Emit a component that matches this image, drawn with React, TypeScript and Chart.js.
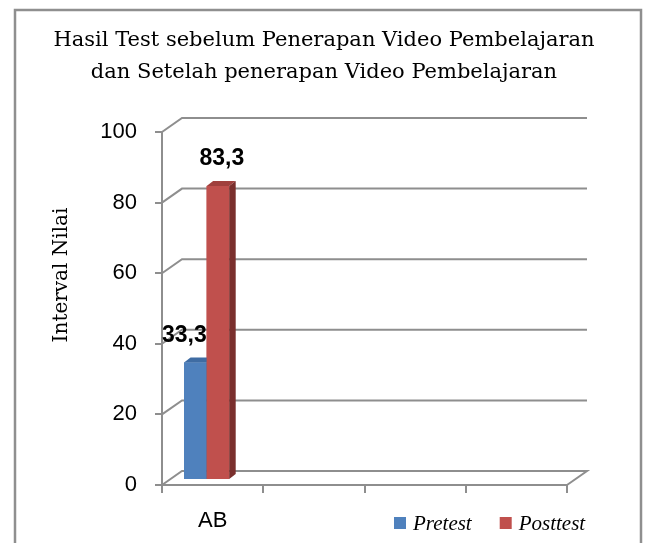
import { useEffect, useRef } from "react";
import { Chart, registerables } from "chart.js";

Chart.register(...registerables);

// ---- data ----
const categories = ["AB", "", "", ""];
const seriesNames = ["Pretest", "Posttest"];
const pretestValues = [33.3, null, null, null];
const posttestValues = [83.3, null, null, null];
const yTickValues = [0, 20, 40, 60, 80, 100];
const titleLines = [
  "Hasil Test sebelum Penerapan Video Pembelajaran",
  "dan Setelah penerapan Video Pembelajaran",
];
const yAxisTitle = "Interval Nilai";

// ---- style ----
const FRONT = ["#4F81BD", "#C0504D"];
const TOP = ["#3F6CA3", "#A0403D"];
const SIDE = ["#2F5485", "#7A2F2D"];
const GRID = "#8E8E8E";
const WALL_DX = 20;
const WALL_DY = -14;
const BAR_SHIFT_X = -6;
const BAR_SHIFT_Y = -5;
const BAR_DX = 6.5;
const BAR_DY = -5;
const LABEL_DX = [-11, 4];
const LABEL_DY = -27;
const SANS = "'Liberation Sans', Arial, sans-serif";
const SERIF = "'DejaVu Serif', serif";
const LEGEND_SERIF = "'Liberation Serif', serif";

const excel3d = {
  id: "excel3d",
  beforeDraw(chart: any) {
    const { ctx, chartArea, scales } = chart;
    const y = scales.y;
    ctx.save();
    ctx.fillStyle = "#ffffff";
    ctx.fillRect(0, 0, chart.width, chart.height);
    // frame
    ctx.strokeStyle = "#8f8f8f";
    ctx.lineWidth = 2.5;
    ctx.strokeRect(15, 10, 626, 560);
    // title
    ctx.fillStyle = "#000";
    ctx.font = `21px ${SERIF}`;
    ctx.textAlign = "center";
    ctx.textBaseline = "alphabetic";
    titleLines.forEach((l, i) => ctx.fillText(l, 324, 46 + i * 32));
    // y title
    ctx.save();
    ctx.translate(62, 275);
    ctx.rotate(-Math.PI / 2);
    ctx.font = `20px ${SERIF}`;
    ctx.textBaseline = "middle";
    ctx.textAlign = "center";
    ctx.fillText(yAxisTitle, 0, 0);
    ctx.restore();
    // side wall + back wall gridlines, floor
    ctx.strokeStyle = GRID;
    ctx.lineWidth = 2;
    y.ticks.forEach((t: any) => {
      const py = y.getPixelForValue(t.value);
      ctx.beginPath();
      ctx.moveTo(chartArea.left, py);
      ctx.lineTo(chartArea.left + WALL_DX, py + WALL_DY);
      ctx.lineTo(chartArea.right + WALL_DX, py + WALL_DY);
      if (t.value === y.min) ctx.lineTo(chartArea.right, py);
      ctx.stroke();
    });
    // legend
    ctx.font = `italic 21px ${LEGEND_SERIF}`;
    ctx.textAlign = "left";
    ctx.textBaseline = "middle";
    let lx = 394;
    const ly = 523;
    chart.data.datasets.forEach((ds: any) => {
      ctx.fillStyle = ds.backgroundColor;
      ctx.fillRect(lx, ly - 6, 12, 12);
      ctx.fillStyle = "#000";
      ctx.fillText(ds.label, lx + 19, ly + 1);
      lx += 19 + ctx.measureText(ds.label).width + 28;
    });
    ctx.restore();
  },
  beforeDatasetsDraw(chart: any) {
    chart.ctx.save();
    chart.ctx.translate(BAR_SHIFT_X, BAR_SHIFT_Y);
  },
  afterDatasetsDraw(chart: any) {
    const { ctx, chartArea } = chart;
    // redraw in index order with 3D faces
    chart.data.datasets.forEach((ds: any, i: number) => {
      const meta = chart.getDatasetMeta(i);
      meta.data.forEach((el: any, j: number) => {
        if (ds.data[j] == null) return;
        const { x, y, base, width } = el.getProps(["x", "y", "base", "width"], true);
        const x1 = x - width / 2;
        const x2 = x + width / 2;
        el.draw(ctx, chartArea);
        ctx.fillStyle = TOP[i];
        ctx.beginPath();
        ctx.moveTo(x1, y);
        ctx.lineTo(x1 + BAR_DX, y + BAR_DY);
        ctx.lineTo(x2 + BAR_DX, y + BAR_DY);
        ctx.lineTo(x2, y);
        ctx.closePath();
        ctx.fill();
        ctx.fillStyle = SIDE[i];
        ctx.beginPath();
        ctx.moveTo(x2, y);
        ctx.lineTo(x2 + BAR_DX, y + BAR_DY);
        ctx.lineTo(x2 + BAR_DX, base + BAR_DY);
        ctx.lineTo(x2, base);
        ctx.closePath();
        ctx.fill();
      });
    });
    ctx.restore();
    // data labels
    ctx.save();
    ctx.fillStyle = "#000";
    ctx.font = `bold 23px ${SANS}`;
    ctx.textAlign = "center";
    ctx.textBaseline = "middle";
    chart.data.datasets.forEach((ds: any, i: number) => {
      const meta = chart.getDatasetMeta(i);
      meta.data.forEach((el: any, j: number) => {
        const v = ds.data[j];
        if (v == null) return;
        const { x, y } = el.getProps(["x", "y"], true);
        ctx.fillText(String(v).replace(".", ","), x + BAR_SHIFT_X + LABEL_DX[i], y + BAR_SHIFT_Y + LABEL_DY);
      });
    });
    ctx.restore();
  },
};

export default function App() {
  const ref = useRef<HTMLCanvasElement>(null);
  useEffect(() => {
    if (!ref.current) return;
    const chart = new Chart(ref.current, {
      type: "bar",
      data: {
        labels: categories,
        datasets: [
          { label: seriesNames[0], data: pretestValues, backgroundColor: FRONT[0], borderWidth: 0, categoryPercentage: 0.446, barPercentage: 1 },
          { label: seriesNames[1], data: posttestValues, backgroundColor: FRONT[1], borderWidth: 0, categoryPercentage: 0.446, barPercentage: 1 },
        ],
      },
      options: {
        responsive: false,
        animation: false,
        devicePixelRatio: 1,
        layout: { padding: { left: 0, right: 79, top: 132, bottom: 0 } },
        plugins: {
          legend: { display: false },
          title: { display: false },
          tooltip: { enabled: false },
        },
        scales: {
          x: {
            grid: { display: true, drawOnChartArea: false, offset: true, tickLength: 8, color: GRID, lineWidth: 2 },
            border: { display: true, color: GRID, width: 2 },
            ticks: { font: { family: SANS, size: 22 }, color: "#000", padding: 15 },
            afterFit: (s: any) => { s.height = 58; },
          },
          y: {
            min: 0,
            max: 100,
            afterBuildTicks: (s: any) => { s.ticks = yTickValues.map((v) => ({ value: v })); },
            grid: { drawOnChartArea: false, tickLength: 7, color: GRID, lineWidth: 2 },
            border: { display: true, color: GRID, width: 2 },
            ticks: { font: { family: SANS, size: 22 }, color: "#000", padding: 18 },
            afterFit: (s: any) => { s.width = 162; },
          },
        },
      } as any,
      plugins: [excel3d],
    });
    return () => chart.destroy();
  }, []);
  return (
    <canvas
      ref={ref}
      width={646}
      height={543}
      style={{ position: "absolute", left: 0, top: 0, display: "block" }}
    />
  );
}
